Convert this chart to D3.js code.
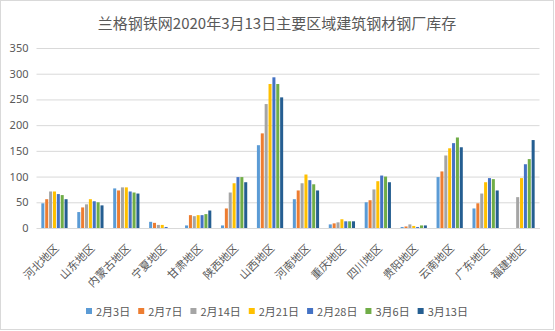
<!DOCTYPE html>
<html><head><meta charset="utf-8">
<script src="https://cdn.jsdelivr.net/npm/d3@7"></script>
<style>
html,body{margin:0;padding:0;background:#fff;}
svg text{font-family:"Noto Sans CJK SC","Microsoft YaHei",sans-serif;}
</style></head>
<body><svg id="c" width="555" height="331"></svg>
<script>
const title = "兰格钢铁网2020年3月13日主要区域建筑钢材钢厂库存";
const categories = ["河北地区","山东地区","内蒙古地区","宁夏地区","甘肃地区","陕西地区","山西地区","河南地区","重庆地区","四川地区","贵阳地区","云南地区","广东地区","福建地区"];
const seriesNames = ["2月3日","2月7日","2月14日","2月21日","2月28日","3月6日","3月13日"];
const colors = ["#5B9BD5","#ED7D31","#A5A5A5","#FFC000","#4472C4","#70AD47","#255E91"];
// values per series, in category order
const s0203 = [48, 31, 77, 12, 5, 5, 161, 56, 7, 50, 2, 99, 38, null];
const s0207 = [56, 40, 73, 10, 25, 38, 184, 73, 9, 54, 3, 110, 48, null];
const s0214 = [71, 46, 79, 6, 23, 69, 241, 87, 11, 75, 7, 141, 67, 60];
const s0221 = [71, 56, 79, 6, 25, 87, 280, 104, 17, 91, 4, 155, 89, 97];
const s0228 = [66, 52, 71, 2, 25, 99, 293, 93, 13, 102, 2, 165, 97, 124];
const s0306 = [64, 50, 69, 0, 27, 99, 280, 85, 13, 100, 5, 176, 95, 134];
const s0313 = [56, 44, 67, 0, 34, 89, 254, 73, 13, 89, 5, 157, 73, 171];
const seriesValues = [s0203, s0207, s0214, s0221, s0228, s0306, s0313];
const yTicks = [0, 50, 100, 150, 200, 250, 300, 350];

const svg = d3.select("#c");
const plot = {l: 36.5, r: 539.5, t: 48, b: 228};

// chart frame
svg.append("rect").attr("x",0.5).attr("y",0.5).attr("width",553).attr("height",329)
  .attr("fill","#fff").attr("stroke","#d9d9d9").attr("stroke-width",1);

const x = d3.scaleBand().domain(categories).range([plot.l, plot.r]).padding(0);
const xi = d3.scaleBand().domain(seriesNames).range([0, x.bandwidth()])
  .paddingInner(0.22).paddingOuter(1.25);
const y = d3.scaleLinear().domain([0, 350]).range([plot.b, plot.t]);

// gridlines
const yAxis = d3.axisLeft(y).tickValues(yTicks).tickSize(-(plot.r - plot.l)).tickPadding(8);
const ga = svg.append("g").attr("transform", `translate(${plot.l},0)`).call(yAxis);
ga.select(".domain").remove();
ga.selectAll(".tick line").attr("stroke","#d9d9d9").attr("stroke-width",1);
ga.selectAll(".tick text").attr("fill","#595959").attr("font-size",11)
  .style("font-family","'Noto Sans','DejaVu Sans',sans-serif");

// bars
seriesNames.forEach((s, si) => {
  svg.append("g").selectAll("rect")
    .data(categories.map((c, ci) => ({c, v: seriesValues[si][ci]})).filter(d => d.v != null && d.v > 0))
    .join("rect")
    .attr("x", d => x(d.c) + xi(s))
    .attr("width", xi.bandwidth())
    .attr("y", d => y(d.v))
    .attr("height", d => y(0) - y(d.v))
    .attr("fill", colors[si]);
});

// x axis line
const xAxis = d3.axisBottom(x).tickSize(0).tickPadding(0);
const gx = svg.append("g").attr("transform", `translate(0,${plot.b})`).call(xAxis);
gx.select(".domain").attr("stroke","#d9d9d9");
gx.selectAll(".tick text")
  .attr("fill","#595959").attr("font-size",11)
  .attr("text-anchor","end")
  .attr("dy", null)
  .attr("transform","translate(5,21) rotate(-45)");

// title
svg.append("text").attr("x", 277).attr("y", 29).attr("text-anchor","middle")
  .attr("font-size",15).attr("fill","#595959").text(title);

// legend
const lg = svg.append("g").attr("transform","translate(0,312)");
let lx = 86;
seriesNames.forEach((s, i) => {
  lg.append("rect").attr("x", lx).attr("y", -4).attr("width", 6).attr("height", 6).attr("fill", colors[i]);
  const t = lg.append("text").attr("x", lx + 10).attr("y", 3.5).attr("font-size", 11)
    .attr("fill","#595959").text(s);
  const w = t.node().getComputedTextLength();
  lx += 10 + w + 8;
});
</script></body></html>
